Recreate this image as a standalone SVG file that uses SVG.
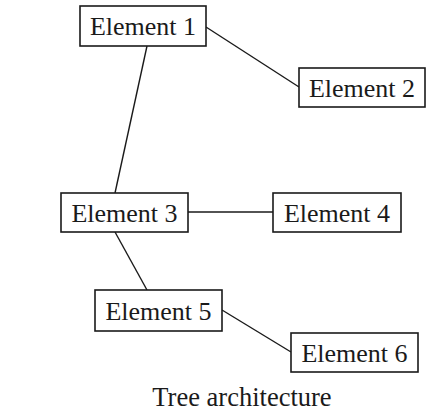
<svg xmlns="http://www.w3.org/2000/svg" width="447" height="420" viewBox="0 0 447 420">
<style>
.box{fill:#fff;stroke:#1a1a1a;stroke-width:1.6}
.lbl{font-family:"Liberation Serif","Times New Roman",serif;font-size:26px;fill:#1a1a1a;text-anchor:middle}
.cap{font-size:26.5px}
.edge{stroke:#1a1a1a;stroke-width:1.4;fill:none}
</style>
<rect width="447" height="420" fill="#fff"/>
<g id="connectors">
<line class="edge" x1="206" y1="27" x2="299" y2="87"/>
<line class="edge" x1="147" y1="46" x2="115" y2="193"/>
<line class="edge" x1="188" y1="212" x2="273" y2="212"/>
<line class="edge" x1="115" y1="232" x2="147" y2="290"/>
<line class="edge" x1="222" y1="310" x2="291" y2="352"/>
</g>
<g id="node1"><rect class="box" x="80" y="6" width="126" height="40"/><text class="lbl" x="143" y="34.5">Element 1</text></g>
<g id="node2"><rect class="box" x="299" y="68" width="126" height="39"/><text class="lbl" x="362" y="96.5">Element 2</text></g>
<g id="node3"><rect class="box" x="61" y="193" width="127" height="39"/><text class="lbl" x="124.5" y="221.5">Element 3</text></g>
<g id="node4"><rect class="box" x="273" y="193" width="128" height="39"/><text class="lbl" x="337" y="221.5">Element 4</text></g>
<g id="node5"><rect class="box" x="95" y="290" width="127" height="41"/><text class="lbl" x="158.5" y="319.5">Element 5</text></g>
<g id="node6"><rect class="box" x="291" y="333" width="127" height="39"/><text class="lbl" x="354.5" y="361.5">Element 6</text></g>
<text class="lbl cap" x="242" y="406">Tree architecture</text>
</svg>
